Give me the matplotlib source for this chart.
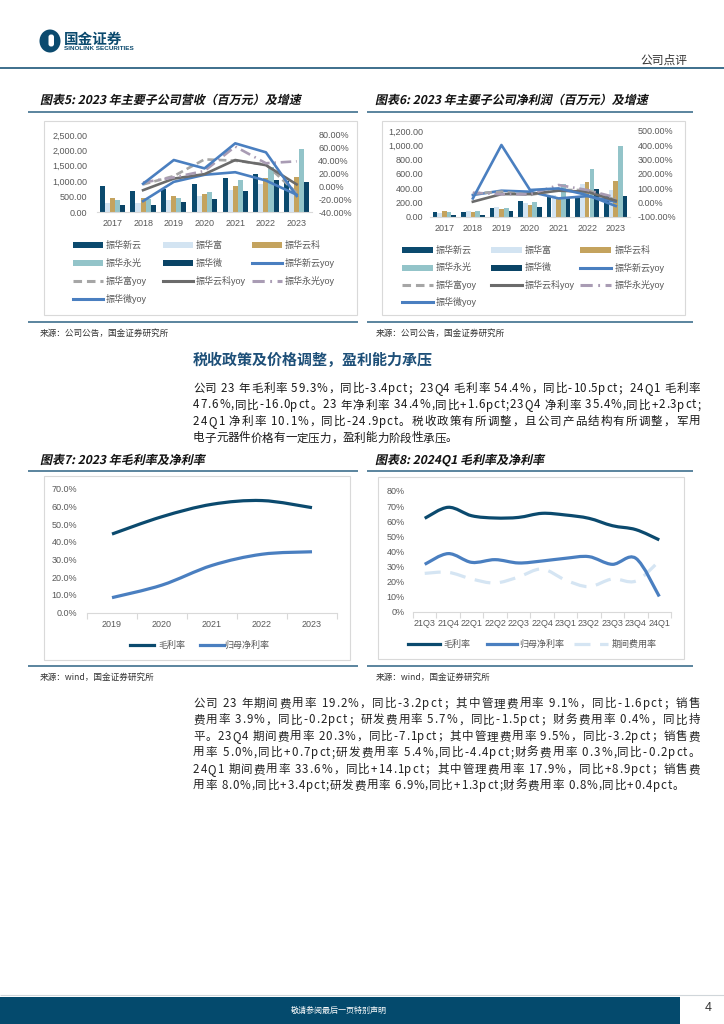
import matplotlib
matplotlib.use("Agg")
import matplotlib.pyplot as plt
from matplotlib.patches import Rectangle, PathPatch, Ellipse, FancyBboxPatch
from matplotlib.lines import Line2D
from matplotlib.path import Path
from matplotlib.textpath import TextPath
from matplotlib.font_manager import FontProperties
from matplotlib.transforms import Affine2D
import numpy as np

plt.rcParams['font.family'] = ['Liberation Sans', 'Noto Sans CJK SC']
CJK = ['Noto Sans CJK SC', 'DejaVu Sans']
W, H = 724, 1024

# ── data ──────────────────────────────────────────────────────────────────────
years = ['2017', '2018', '2019', '2020', '2021', '2022', '2023']
subs = ['振华新云', '振华富', '振华云科', '振华永光', '振华微']

# revenue (百万元)
rev_xinyun = [860, 685, 740, 900, 1110, 1230, 1000]
rev_fu = [290, 300, 380, 510, 730, 920, 640]
rev_yunke = [445, 445, 510, 600, 840, 1090, 1140]
rev_yongguang = [400, 435, 470, 650, 1050, 1470, 2030]
rev_wei = [240, 240, 330, 410, 685, 1050, 960]
# revenue yoy (%), 2018-2023
rev_yoy_xinyun = [-23, 7, 18, 22, 9, -13]
rev_yoy_fu = [3, 16, 42, 40, 34, -10]
rev_yoy_yunke = [-6, 12, 19, 41, 33, 3]
rev_yoy_yongguang = [6, 14, 24, 62, 36, 39]
rev_yoy_wei = [4, 41, 28, 67, 53, -15]

# net profit (百万元)
np_xinyun = [61, 70, 126, 220, 271, 290, 303]
np_fu = [50, 75, 135, 196, 300, 453, 374]
np_yunke = [75, 70, 112, 163, 257, 481, 504]
np_yongguang = [60, 84, 121, 205, 455, 668, 990]
np_wei = [19, 23, 75, 140, 271, 388, 290]
# net profit yoy (%), 2018-2023
np_yoy_xinyun = [52, 82, 75, 28, 44, 5]
np_yoy_fu = [63, 75, 52, 87, 87, 17]
np_yoy_yunke = [5, 58, 58, 82, 75, 12]
np_yoy_yongguang = [68, 57, 57, 122, 87, 35]
np_yoy_wei = [28, 402, 87, 98, 52, -25]

# 2019-2023 margins (%)
m_years = ['2019', '2020', '2021', '2022', '2023']
gross_margin = [44.4, 54.2, 61.2, 63.3, 59.3]
net_margin = [8.5, 15.6, 26.7, 33.0, 34.4]

# quarterly margins (%)
quarters = ['21Q3', '21Q4', '22Q1', '22Q2', '22Q3', '22Q4', '23Q1', '23Q2', '23Q3', '23Q4', '24Q1']
q_gross = [61.9, 69.2, 63.6, 62.1, 62.5, 65.2, 64.1, 61.9, 57.0, 54.4, 47.6]
q_net = [31.4, 38.5, 32.7, 34.5, 32.3, 33.6, 35.4, 36.5, 31.4, 35.4, 10.1]
q_exp = [25.4, 26.1, 21.7, 19.0, 23.0, 28.3, 21.0, 16.6, 21.7, 20.3, 33.6]

# ── styles ────────────────────────────────────────────────────────────────────
NAVY = '#0b4a6e'
BAR_COLORS = [NAVY, '#d3e4f2', '#c4a35e', '#93c4c9', '#0a4466']
BLUE = '#4a7fc0'
LINE_STYLES = [  # (color, dash)
    (BLUE, '-'),
    ('#a6a6a6', (0, (2.8, 1.6))),
    ('#6b6b6b', '-'),
    ('#a99cb4', (0, (4, 1.8, 0.6, 1.8))),
    (BLUE, '-'),
]
RULE = '#2e6384'
GRID = '#d9d9d9'
TICK = '#595959'

fig = plt.figure(figsize=(W / 100, H / 100), dpi=100)
page = fig.add_axes([0, 0, 1, 1])
page.set_xlim(0, W)
page.set_ylim(H, 0)
page.axis('off')


def box_axes(x0, y0, x1, y1):
    return fig.add_axes([x0 / W, 1 - y1 / H, (x1 - x0) / W, (y1 - y0) / H])


def hline(x0, x1, y, color=RULE, lw=1.1):
    page.plot([x0, x1], [y, y], color=color, lw=lw, solid_capstyle='butt')


def frame(x0, y0, x1, y1):
    page.add_patch(Rectangle((x0, y0), x1 - x0, y1 - y0, fill=False,
                             edgecolor=GRID, lw=0.8))


def slanted(s, x, y, px, color='#111111'):
    fp = FontProperties(family='Noto Sans CJK SC', weight='bold')
    tp = TextPath((0, 0), s, size=px, prop=fp)
    tr = Affine2D().skew_deg(12, 0).scale(1, -1).translate(x, y) + page.transData
    page.add_patch(PathPatch(tp, transform=tr, color=color, lw=0))


def smooth(ax, xs, ys, color, lw, ls='-'):
    n = len(xs)
    verts = [(xs[0], ys[0])]
    codes = [Path.MOVETO]
    for i in range(n - 1):
        xa, ya = (xs[i - 1], ys[i - 1]) if i > 0 else (xs[i], ys[i])
        xb, yb = (xs[i + 2], ys[i + 2]) if i + 2 < n else (xs[i + 1], ys[i + 1])
        c1 = (xs[i] + (xs[i + 1] - xa) / 6, ys[i] + (ys[i + 1] - ya) / 6)
        c2 = (xs[i + 1] - (xb - xs[i]) / 6, ys[i + 1] - (yb - ys[i]) / 6)
        verts += [c1, c2, (xs[i + 1], ys[i + 1])]
        codes += [Path.CURVE4] * 3
    ax.add_patch(PathPatch(Path(verts, codes), fill=False, edgecolor=color,
                           lw=lw, linestyle=ls, capstyle='butt', zorder=3))


renderer = fig.canvas.get_renderer()


def para_line(s, x0, x1, y, size=8.3, full=True, color='#1a1a1a'):
    prop = FontProperties(family=CJK, size=size)
    def w(t):
        return renderer.get_text_width_height_descent(t, prop, ismath=False)[0]
    sp = w('a a') - w('aa')
    widths = [sp if ch == ' ' else w(ch) for ch in s]
    total = sum(widths)
    extra = (x1 - x0 - total) / (len(s) - 1) if full else 0
    xc = x0
    for ch, cw in zip(s, widths):
        if ch != ' ':
            page.text(xc, y, ch, fontsize=size, family=CJK, color=color, va='baseline')
        xc += cw + extra


def legend_grid(items, xs_h, xs_t, ys, hlen):
    for i, (kind, color, ls, label) in enumerate(items):
        r, c = divmod(i, 3)
        xh, xt, y = xs_h[c], xs_t[c], ys[r]
        if kind == 'bar':
            page.add_patch(Rectangle((xh, y - 3), hlen, 6, color=color, lw=0))
        else:
            page.add_line(Line2D([xh, xh + hlen], [y, y], color=color, lw=2.2, linestyle=ls))
        page.text(xt, y, label, fontsize=6.5, color=TICK, va='center', ha='left')


def style_bar_axes(ax, pad_x):
    for s in ['top', 'left', 'right']:
        ax.spines[s].set_visible(False)
    ax.spines['bottom'].set_color(GRID)
    ax.spines['bottom'].set_linewidth(0.8)
    ax.patch.set_alpha(0)
    ax.tick_params(axis='both', length=0, labelsize=6.5, labelcolor=TICK)
    ax.tick_params(axis='x', pad=pad_x)


def bar_combo(rect, bars, yoys, ylim, yticks, ylab_fmt, rlim, rticks, lpad, rpad, xpad):
    ax = box_axes(*rect)
    x = np.arange(len(years))
    bw = 0.165
    for k, (vals, col) in enumerate(zip(bars, BAR_COLORS)):
        ax.bar(x + (k - 2) * bw, vals, bw, color=col, zorder=2)
    ax.set_xlim(-0.5, len(years) - 0.5)
    ax.set_xticks(x)
    ax.set_xticklabels(years)
    ax.set_ylim(*ylim)
    ax.set_yticks(yticks)
    ax.set_yticklabels([ylab_fmt.format(v) for v in yticks])
    style_bar_axes(ax, xpad)
    ax.tick_params(axis='y', pad=lpad)
    axr = ax.twinx()
    for vals, (col, ls) in zip(yoys, LINE_STYLES):
        axr.plot(x[1:], vals, color=col, lw=1.9, linestyle=ls, zorder=3)
    axr.set_ylim(*rlim)
    axr.set_yticks(rticks)
    axr.set_yticklabels(['{:.2f}%'.format(v) for v in rticks])
    for s in ['top', 'left', 'right', 'bottom']:
        axr.spines[s].set_visible(False)
    axr.tick_params(axis='y', length=0, labelsize=6.5, labelcolor=TICK, pad=rpad)
    return ax


# ── header ────────────────────────────────────────────────────────────────────
page.add_patch(Ellipse((50, 41), 21, 23, color=NAVY, lw=0))
page.add_patch(FancyBboxPatch((48.5, 34.5), 5.5, 12, boxstyle='round,pad=0,rounding_size=2.5',
                              color='white', lw=0))
page.text(64, 38.5, '国金证券', fontsize=10.5, weight='bold', color=NAVY, family=CJK, va='center')
page.text(64.5, 48.5, 'SINOLINK SECURITIES', fontsize=4.6, weight='bold', color=NAVY,
          family='Liberation Sans', va='center')
page.text(687, 60, '公司点评', fontsize=8.5, color='#333333', family=CJK, va='center', ha='right')
hline(0, W, 68, lw=1.3)

# ── chart 5 / 6 ───────────────────────────────────────────────────────────────
slanted('图表5: 2023 年主要子公司营收（百万元）及增速', 40, 104, 12)
slanted('图表6: 2023 年主要子公司净利润（百万元）及增速', 375, 104, 12)
hline(28, 358, 112)
hline(367, 693, 112)
frame(44, 121, 357, 315)
frame(382, 121, 685, 315)

bar_combo((97, 135, 312, 212),
          [rev_xinyun, rev_fu, rev_yunke, rev_yongguang, rev_wei],
          [rev_yoy_xinyun, rev_yoy_fu, rev_yoy_yunke, rev_yoy_yongguang, rev_yoy_wei],
          (0, 2500), np.arange(0, 2501, 500), '{:,.2f}',
          (-40, 80), np.arange(-40, 81, 20), 7, 4.5, 5)
bar_combo((430, 131, 630, 216.7),
          [np_xinyun, np_fu, np_yunke, np_yongguang, np_wei],
          [np_yoy_xinyun, np_yoy_fu, np_yoy_yunke, np_yoy_yongguang, np_yoy_wei],
          (0, 1200), np.arange(0, 1201, 200), '{:,.2f}',
          (-100, 500), np.arange(-100, 501, 100), 5, 5.5, 5)

leg_items = [('bar', BAR_COLORS[k], '-', subs[k]) for k in range(5)]
leg_items += [('line', LINE_STYLES[k][0], LINE_STYLES[k][1], subs[k] + 'yoy') for k in range(5)]
legend_grid(leg_items, [73, 163, 252], [106, 196, 285], [245, 263, 281, 298.5], 30)
legend_grid(leg_items, [402, 491, 580], [436, 525, 615], [250, 267.5, 285, 302], 31)

hline(28, 358, 322)
hline(367, 693, 322)
page.text(40, 333, '来源：公司公告，国金证券研究所', fontsize=6.2, color='#333333', family=CJK, va='center')
page.text(376, 333, '来源：公司公告，国金证券研究所', fontsize=6.2, color='#333333', family=CJK, va='center')

# ── text block 1 ──────────────────────────────────────────────────────────────
page.text(193, 360, '税收政策及价格调整，盈利能力承压', fontsize=10.8, weight='bold',
          color='#1d4f78', family=CJK, va='center')
p1 = ['公司 23 年毛利率 59.3%，同比-3.4pct；23Q4 毛利率 54.4%，同比-10.5pct；24Q1 毛利率',
      '47.6%,同比-16.0pct。23 年净利率 34.4%,同比+1.6pct;23Q4 净利率 35.4%,同比+2.3pct;',
      '24Q1 净利率 10.1%，同比-24.9pct。税收政策有所调整，且公司产品结构有所调整，军用',
      '电子元器件价格有一定压力，盈利能力阶段性承压。']
for i, s in enumerate(p1):
    para_line(s, 193, 700, 392 + i * 16.5, full=(i < len(p1) - 1))

# ── chart 7 / 8 ───────────────────────────────────────────────────────────────
slanted('图表7: 2023 年毛利率及净利率', 40, 464, 12)
slanted('图表8: 2024Q1 毛利率及净利率', 375, 464, 12)
hline(28, 358, 471)
hline(367, 693, 471)
frame(44, 476, 350, 660)
frame(378, 477, 684, 659)


def line_axes(rect, cats, series, ylim, ypad):
    ax = box_axes(*rect)
    xs = np.arange(len(cats))
    for vals, col, ls in series:
        smooth(ax, xs, vals, col, 2.3, ls)
    ax.set_xlim(-0.5, len(cats) - 0.5)
    ax.set_ylim(*ylim)
    ax.set_xticks(xs)
    ax.set_xticklabels(cats)
    ax.set_xticks(np.arange(-0.5, len(cats)), minor=True)
    style_bar_axes(ax, 5)
    ax.tick_params(axis='x', which='minor', length=4, color=GRID, width=0.8)
    ax.tick_params(axis='y', pad=ypad)
    return ax


ax7 = line_axes((87, 488.7, 337, 612.7), m_years,
                [(gross_margin, NAVY, '-'), (net_margin, BLUE, '-')], (0, 70), 7)
ax7.set_yticks(np.arange(0, 71, 10))
ax7.set_yticklabels(['{:.1f}%'.format(v) for v in np.arange(0, 71, 10)])

ax8 = line_axes((413, 491, 671, 611.7), quarters,
                [(q_exp, '#d5e5f3', (0, (5, 3))), (q_gross, NAVY, '-'), (q_net, BLUE, '-')],
                (0, 80), 6)
ax8.set_yticks(np.arange(0, 81, 10))
ax8.set_yticklabels(['{:.0f}%'.format(v) for v in np.arange(0, 81, 10)])

for xh, xt, col, ls, lab in [(130, 158, NAVY, '-', '毛利率'), (200, 224, BLUE, '-', '归母净利率')]:
    page.add_line(Line2D([xh, xh + 24], [645, 645], color=col, lw=2.3, linestyle=ls))
    page.text(xt, 645, lab, fontsize=6.5, color=TICK, va='center')
for xh, xt, ln, col, ls, lab in [(408, 443, 32, NAVY, '-', '毛利率'),
                                 (487, 519, 30, BLUE, '-', '归母净利率'),
                                 (574, 612, 34, '#d5e5f3', (0, (5, 3)), '期间费用率')]:
    page.add_line(Line2D([xh, xh + ln], [644, 644], color=col, lw=2.3, linestyle=ls))
    page.text(xt, 644, lab, fontsize=6.5, color=TICK, va='center')

hline(28, 358, 666)
hline(367, 693, 666)
page.text(40, 677, '来源：wind，国金证券研究所', fontsize=6.2, color='#333333', family=CJK, va='center')
page.text(376, 677, '来源：wind，国金证券研究所', fontsize=6.2, color='#333333', family=CJK, va='center')

# ── text block 2 ──────────────────────────────────────────────────────────────
p2 = ['公司 23 年期间费用率 19.2%，同比-3.2pct；其中管理费用率 9.1%，同比-1.6pct；销售',
      '费用率 3.9%，同比-0.2pct；研发费用率 5.7%，同比-1.5pct；财务费用率 0.4%，同比持',
      '平。23Q4 期间费用率 20.3%，同比-7.1pct；其中管理费用率 9.5%，同比-3.2pct；销售费',
      '用率 5.0%,同比+0.7pct;研发费用率 5.4%,同比-4.4pct;财务费用率 0.3%,同比-0.2pct。',
      '24Q1 期间费用率 33.6%，同比+14.1pct；其中管理费用率 17.9%，同比+8.9pct；销售费',
      '用率 8.0%,同比+3.4pct;研发费用率 6.9%,同比+1.3pct;财务费用率 0.8%,同比+0.4pct。']
for i, s in enumerate(p2):
    para_line(s, 193, 700 if i < len(p2) - 1 else 684, 707 + i * 16.4, color='#222222')

# ── footer ────────────────────────────────────────────────────────────────────
hline(0, W, 995, color='#d0d6da', lw=0.8)
page.add_patch(Rectangle((0, 997), 680, 27, color='#044a6d', lw=0))
page.text(339, 1010, '敬请参阅最后一页特别声明', fontsize=5.8, color='white', family=CJK,
          ha='center', va='center')
page.text(708, 1008, '4', fontsize=9, color='#333333', ha='center', va='center')

fig.savefig('out.png', dpi=100)
